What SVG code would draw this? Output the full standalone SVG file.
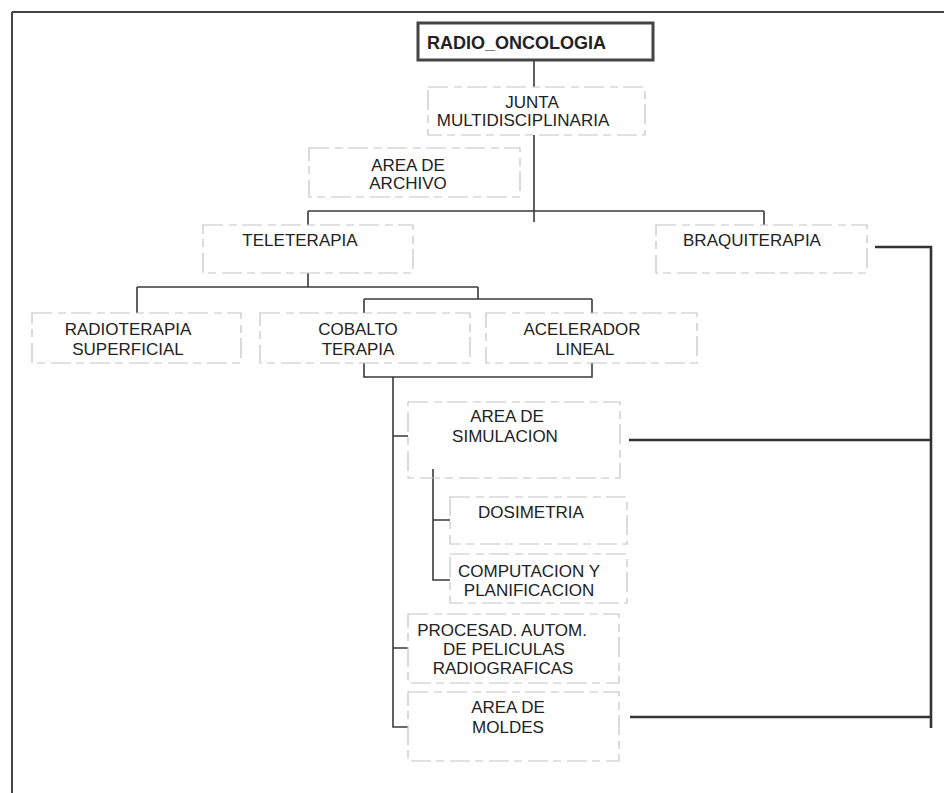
<svg xmlns="http://www.w3.org/2000/svg" width="944" height="793" viewBox="0 0 944 793">
<style>
.box{fill:none;stroke:#c4c4c4;stroke-width:1.2;stroke-dasharray:20 6 8 5}
.t{font-family:"Liberation Sans",Arial,sans-serif;font-size:17px;fill:#222;text-anchor:middle}
.c{stroke:#3a3a3a;stroke-width:1.6;fill:none}
.k{stroke:#333;stroke-width:2.6;fill:none}
.f{stroke:#444;stroke-width:2;fill:none}
</style>
<rect width="944" height="793" fill="#fff"/>
<path class="f" d="M12 12 H944 M12 12 V793"/>
<g id="connectors">
<path class="c" d="M534 60 V87 M534 135 V222 M308 211 H764 M308 211 V225 M764 211 V225"/>
<path class="c" d="M308 273 V287 M137 287 H478 M137 287 V313 M478 287 V299 M364 299 H592 M364 299 V313 M592 299 V313"/>
<path class="c" d="M364 363 V377 H592 V363 M393 377 V727 H408 M393 436 H408 M393 648 H408"/>
<path class="c" d="M433 469 V580 H450 M433 520 H450"/>
<path class="k" d="M875 247 H931 V728 M629 440 H931 M630 717 H931"/>
</g>
<g id="radio_oncologia">
<rect x="418" y="23" width="235" height="37" fill="none" stroke="#444" stroke-width="3"/>
<text class="t" x="427" y="49" style="text-anchor:start;font-size:18px;font-weight:bold">RADIO_ONCOLOGIA</text>
</g>
<g id="junta">
<rect class="box" x="428" y="87" width="217" height="48"/>
<text class="t" x="532" y="108">JUNTA</text>
<text class="t" x="523" y="126">MULTIDISCIPLINARIA</text>
</g>
<g id="archivo">
<rect class="box" x="309" y="148" width="211" height="49"/>
<text class="t" x="408" y="171">AREA DE</text>
<text class="t" x="408" y="189">ARCHIVO</text>
</g>
<g id="teleterapia">
<rect class="box" x="203" y="225" width="210" height="48"/>
<text class="t" x="300" y="246">TELETERAPIA</text>
</g>
<g id="braquiterapia">
<rect class="box" x="656" y="225" width="211" height="48"/>
<text class="t" x="752" y="246">BRAQUITERAPIA</text>
</g>
<g id="radioterapia">
<rect class="box" x="32" y="313" width="209" height="50"/>
<text class="t" x="128" y="335">RADIOTERAPIA</text>
<text class="t" x="128" y="355">SUPERFICIAL</text>
</g>
<g id="cobalto">
<rect class="box" x="260" y="313" width="210" height="50"/>
<text class="t" x="358" y="335">COBALTO</text>
<text class="t" x="358" y="355">TERAPIA</text>
</g>
<g id="acelerador">
<rect class="box" x="486" y="313" width="211" height="50"/>
<text class="t" x="582" y="335">ACELERADOR</text>
<text class="t" x="585" y="355">LINEAL</text>
</g>
<g id="simulacion">
<rect class="box" x="408" y="402" width="212" height="76"/>
<text class="t" x="507" y="422">AREA DE</text>
<text class="t" x="505" y="442">SIMULACION</text>
</g>
<g id="dosimetria">
<rect class="box" x="450" y="497" width="177" height="47"/>
<text class="t" x="531" y="518">DOSIMETRIA</text>
</g>
<g id="computacion">
<rect class="box" x="450" y="554" width="177" height="49"/>
<text class="t" x="529" y="577">COMPUTACION Y</text>
<text class="t" x="529" y="596">PLANIFICACION</text>
</g>
<g id="procesad">
<rect class="box" x="408" y="614" width="211" height="69"/>
<text class="t" x="502" y="636">PROCESAD. AUTOM.</text>
<text class="t" x="504" y="655">DE PELICULAS</text>
<text class="t" x="503" y="674">RADIOGRAFICAS</text>
</g>
<g id="moldes">
<rect class="box" x="408" y="692" width="211" height="69"/>
<text class="t" x="508" y="713">AREA DE</text>
<text class="t" x="508" y="733">MOLDES</text>
</g>
</svg>
